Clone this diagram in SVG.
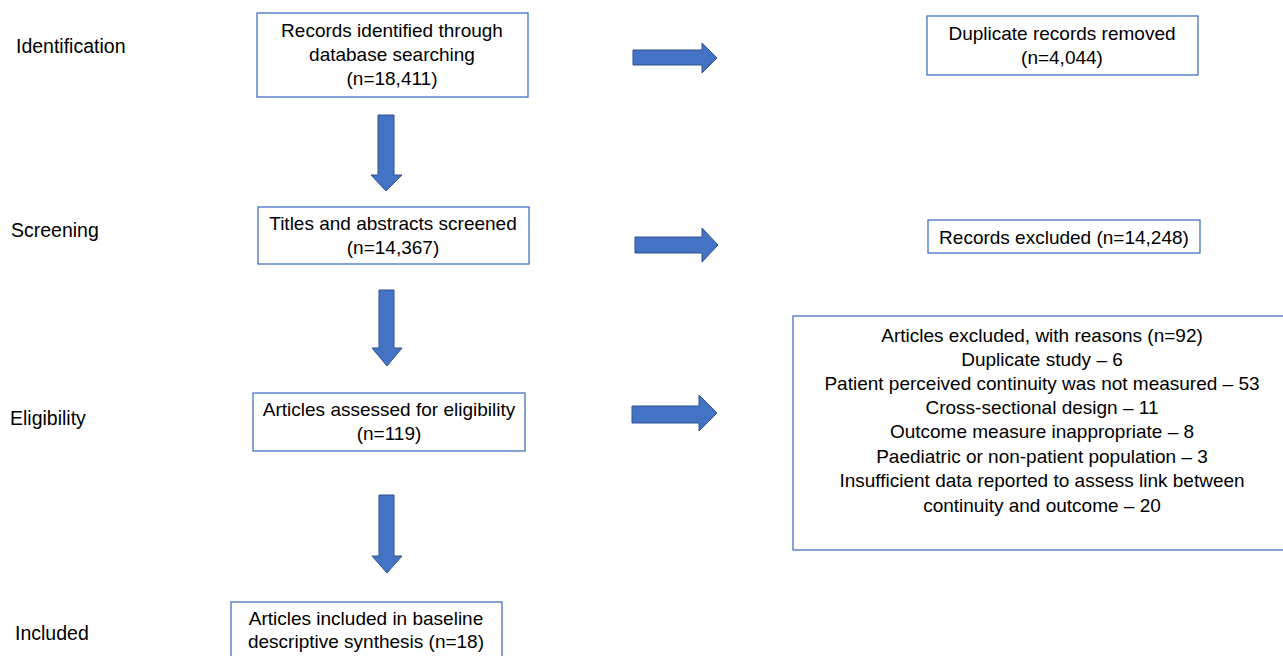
<svg xmlns="http://www.w3.org/2000/svg" width="1283" height="656" viewBox="0 0 1283 656">
<style>
.box{fill:#fff;stroke:#4472C4;stroke-width:1.3}
.t{font-family:"Liberation Sans",Arial,sans-serif;font-size:19px;fill:#000;text-anchor:middle}
.lab{font-family:"Liberation Sans",Arial,sans-serif;font-size:19.5px;fill:#000}
.arr{fill:#4472C4;stroke:#2F528F;stroke-width:1}
</style>
<rect width="1283" height="656" fill="#fff"/>
<g id="labels">
<text class="lab" x="16" y="53">Identification</text>
<text class="lab" x="11" y="237">Screening</text>
<text class="lab" x="10" y="425">Eligibility</text>
<text class="lab" x="15" y="640">Included</text>
</g>
<g id="connectors">
<path class="arr" d="M633,50 H702 V43 L717,58 L702,73 V65 H633 Z"/>
<path class="arr" d="M635,237 H702 V228 L718,245 L702,262 V253 H635 Z"/>
<path class="arr" d="M632,406 H699 V395 L717,413 L699,431 V423 H632 Z"/>
<path class="arr" d="M378,115 H394 V175 H402 L386,191 L371,175 H378 Z"/>
<path class="arr" d="M379,290 H394 V348 H402 L387,366 L372,348 H379 Z"/>
<path class="arr" d="M379,495 H394 V556 H402 L387,573 L372,556 H379 Z"/>
</g>
<g id="n1">
<rect class="box" x="257" y="13" width="271" height="84"/>
<text class="t" x="392" y="37">Records identified through</text>
<text class="t" x="392" y="61">database searching</text>
<text class="t" x="392" y="85">(n=18,411)</text>
</g>
<g id="n2">
<rect class="box" x="927" y="16" width="271" height="59"/>
<text class="t" x="1062" y="40">Duplicate records removed</text>
<text class="t" x="1062" y="64">(n=4,044)</text>
</g>
<g id="n3">
<rect class="box" x="258" y="207" width="271" height="57"/>
<text class="t" x="393" y="230">Titles and abstracts screened</text>
<text class="t" x="393" y="254">(n=14,367)</text>
</g>
<g id="n4">
<rect class="box" x="928" y="220" width="272" height="33"/>
<text class="t" x="1064" y="244">Records excluded (n=14,248)</text>
</g>
<g id="n5">
<rect class="box" x="253" y="393" width="272" height="58"/>
<text class="t" x="389" y="416">Articles assessed for eligibility</text>
<text class="t" x="389" y="440">(n=119)</text>
</g>
<g id="n6">
<rect class="box" x="793" y="316" width="495" height="234"/>
<text class="t" x="1042" y="342">Articles excluded, with reasons (n=92)</text>
<text class="t" x="1042" y="366">Duplicate study – 6</text>
<text class="t" x="1042" y="390">Patient perceived continuity was not measured – 53</text>
<text class="t" x="1042" y="414">Cross-sectional design – 11</text>
<text class="t" x="1042" y="438">Outcome measure inappropriate – 8</text>
<text class="t" x="1042" y="463">Paediatric or non-patient population – 3</text>
<text class="t" x="1042" y="487">Insufficient data reported to assess link between</text>
<text class="t" x="1042" y="512">continuity and outcome – 20</text>
</g>
<g id="n7">
<rect class="box" x="231" y="602" width="271" height="70"/>
<text class="t" x="366" y="625">Articles included in baseline</text>
<text class="t" x="366" y="648">descriptive synthesis (n=18)</text>
</g>
</svg>
